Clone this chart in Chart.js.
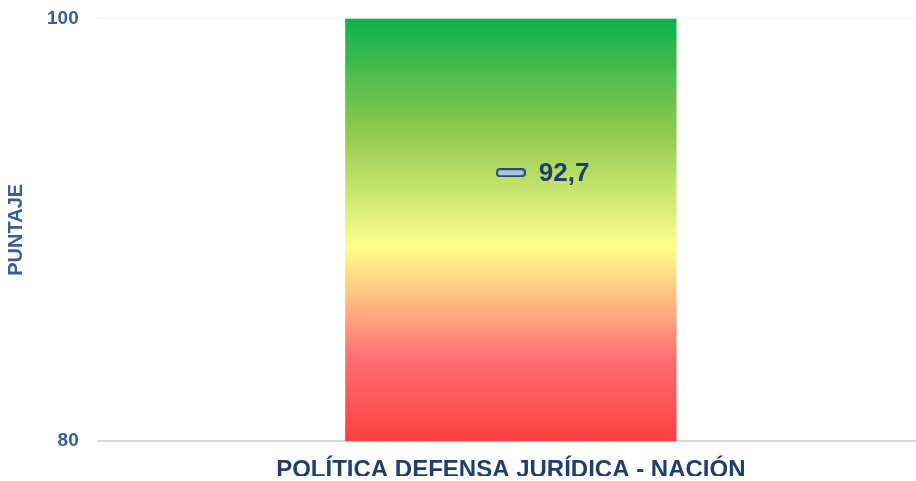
<!DOCTYPE html>
<html>
<head>
<meta charset="utf-8">
<script src="https://cdn.jsdelivr.net/npm/chart.js@4/dist/chart.umd.min.js"></script>
<style>
  html, body { margin: 0; padding: 0; background: #fff; overflow: hidden; }
  #clip { width: 916px; height: 481px; overflow: hidden; }
  #wrap { width: 929px; height: 488px; margin-top: -12px; }
</style>
</head>
<body>
<div id="clip"><div id="wrap"><canvas id="chart"></canvas></div></div>
<script>
// Datos
const CATEGORIES = ['POLÍTICA DEFENSA JURÍDICA - NACIÓN'];
const RANGE_MIN = [80];
const RANGE_MAX = [100];
const SCORES = [92.7];
const Y_TICKS = [80, 100];

const NAVY = '#1f3f6e';
const AXIS_BLUE = '#3a5f94';
const FONT = 'Arial, "Liberation Sans", sans-serif';

// Degradado rojo → amarillo → verde sobre la barra
function barGradient(ctx) {
  const area = ctx.chart.chartArea;
  if (!area) return '#ffff8c';
  const g = ctx.chart.ctx.createLinearGradient(0, area.bottom, 0, area.top);
  g.addColorStop(0, '#ff4040');
  g.addColorStop(0.2, '#ff7074');
  g.addColorStop(0.34, '#ffc080');
  g.addColorStop(0.46, '#ffff8c');
  g.addColorStop(0.74, '#8bc84c');
  g.addColorStop(1, '#0db04f');
  return g;
}

// Marcador: rectángulo redondeado horizontal
function markerImage() {
  const c = document.createElement('canvas');
  c.width = 30; c.height = 9;
  const x = c.getContext('2d');
  x.fillStyle = '#a9c4dc';
  x.strokeStyle = '#2a4a72';
  x.lineWidth = 2;
  x.beginPath();
  x.roundRect(1, 1, 28, 7, 3);
  x.fill();
  x.stroke();
  return c;
}

const scoreLabel = {
  id: 'scoreLabel',
  afterDatasetsDraw(chart) {
    const meta = chart.getDatasetMeta(1);
    const ctx = chart.ctx;
    ctx.save();
    ctx.font = 'bold 26px ' + FONT;
    ctx.fillStyle = NAVY;
    ctx.textBaseline = 'middle';
    meta.data.forEach((pt, i) => {
      ctx.fillText(SCORES[i].toFixed(1).replace('.', ','), pt.x + 28, pt.y + 1);
    });
    ctx.restore();
  }
};

new Chart(document.getElementById('chart'), {
  data: {
    labels: CATEGORIES,
    datasets: [
      {
        type: 'bar',
        label: 'Rango',
        data: RANGE_MIN.map((v, i) => [v, RANGE_MAX[i]]),
        backgroundColor: barGradient,
        borderWidth: 0,
        barPercentage: 0.401,
        categoryPercentage: 1,
        order: 2
      },
      {
        type: 'line',
        label: 'Puntaje',
        data: SCORES,
        pointStyle: markerImage(),
        showLine: false,
        order: 1
      }
    ]
  },
  options: {
    responsive: true,
    maintainAspectRatio: false,
    animation: false,
    layout: { padding: { top: 0, right: 0, left: 4, bottom: -16 } },
    plugins: {
      legend: { display: false },
      tooltip: { enabled: false }
    },
    scales: {
      x: {
        grid: { display: false },
        border: { color: '#d9d9d9', width: 2 },
        ticks: {
          color: NAVY,
          padding: 7,
          font: { family: FONT, size: 24, weight: 'bold' }
        }
      },
      y: {
        min: 80,
        max: 100,
        afterBuildTicks: axis => { axis.ticks = Y_TICKS.map(v => ({ value: v })); },
        grid: { color: '#f4f4f4', drawTicks: false },
        border: { display: false },
        ticks: {
          color: AXIS_BLUE,
          padding: 19,
          font: { family: FONT, size: 19, weight: 'bold' }
        },
        title: {
          display: true,
          text: 'PUNTAJE',
          color: AXIS_BLUE,
          padding: { top: 0, bottom: 0 },
          font: { family: FONT, size: 20, weight: 'bold' }
        }
      }
    }
  },
  plugins: [scoreLabel]
});
</script>
</body>
</html>
